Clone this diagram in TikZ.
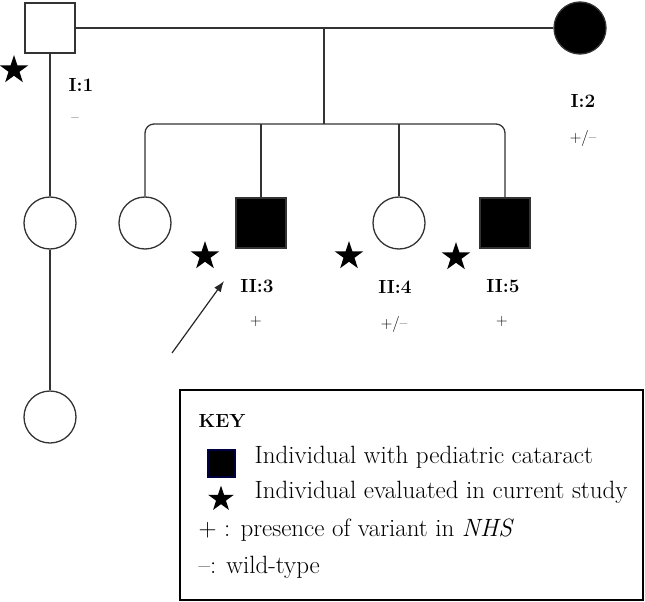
\documentclass[tikz,border=0pt]{standalone}
\usepackage{tikz}
\usetikzlibrary{arrows.meta,shapes.geometric}

\begin{document}
\begin{tikzpicture}[x=1pt, y=-1pt, line width=1.3pt, >={Latex[length=11pt,width=8pt]},
	male/.style={draw=black!80, rectangle, minimum size=50pt, inner sep=0pt},
	female/.style={draw=black!80, circle, minimum size=52pt, inner sep=0pt},
	affected/.style={fill=black},
	evaluated/.style={star, star points=5, star point ratio=2.6, fill=black, minimum size=30pt, inner sep=0pt},
	idlabel/.style={font=\fontsize{19}{22}\selectfont\bfseries},
	gtlabel/.style={font=\fontsize{16}{18}\selectfont},
	keytext/.style={anchor=base west, inner sep=0pt, font=\fontsize{25}{28}\selectfont}]
	\useasboundingbox (0,0) rectangle (645,602);
	% generation I
	\node[male] (I1) at (50,28) {};
	\node[female, affected] (I2) at (580,28) {};
	% generation II
	\node[female] (II1) at (50,223) {};
	\node[female] (II2) at (145,223) {};
	\node[male, affected] (II3) at (261,223) {};
	\node[female] (II4) at (399,223) {};
	\node[male, affected] (II5) at (505,223) {};
	% generation III
	\node[female] (III1) at (50,417) {};
	% mating and sibship lines
	\coordinate (mate) at (324,28);
	\coordinate (sib) at (324,124);
	\draw[black!80] (I1) -- (I2);
	\draw[black!80] (mate) -- (sib);
	\draw[black!80, rounded corners=9pt] (II2.north) -- (II2.north |- sib) -- (II5.north |- sib) -- (II5.north);
	\draw[black!80] (II3.north) -- (II3.north |- sib);
	\draw[black!80] (II4.north) -- (II4.north |- sib);
	\draw[black!80] (I1) -- (II1);
	\draw[black!80] (II1) -- (III1);
	% evaluated individuals
	\node[evaluated] (evI1) at (14,70) {};
	\node[evaluated] (evII3) at (205,256) {};
	\node[evaluated] (evII4) at (349,256) {};
	\node[evaluated] (evII5) at (456,257) {};
	% labels
	\node[idlabel] (idI1) at (81,85) {I:1};
	\node[gtlabel] (gtI1) at (75,120) {--};
	\node[idlabel] (idI2) at (583,101) {I:2};
	\node[gtlabel] (gtI2) at (583,138) {+/--};
	\node[idlabel] (idII3) at (257,286) {II:3};
	\node[gtlabel] (gtII3) at (256,322) {+};
	\node[idlabel] (idII4) at (395,287) {II:4};
	\node[gtlabel] (gtII4) at (394,324) {+/--};
	\node[idlabel] (idII5) at (503,286) {II:5};
	\node[gtlabel] (gtII5) at (502,322) {+};
	% proband arrow
	\coordinate (probandtail) at (172,353);
	\coordinate (probandtip) at (224,281);
	\draw[->, black!85, line width=1.2pt] (probandtail) -- (probandtip);
	% key
	\draw[line width=1.2pt] (180,390) rectangle (643,600);
	\node[anchor=base west, inner sep=0pt, font=\fontsize{19}{22}\selectfont\bfseries] (keytitle) at (198,427) {KEY};
	\node[male, affected, draw=blue!25!black, minimum size=27pt] (keysq) at (221.5,463.5) {};
	\node[keytext] (keyaff) at (254,463) {Individual with pediatric cataract};
	\node[evaluated, minimum size=27pt] (keystar) at (221,499) {};
	\node[keytext] (keyev) at (254,498) {Individual evaluated in current study};
	\node[keytext] (keyplus) at (198,536) {+ : presence of variant in \textit{NHS}};
	\node[keytext] (keyminus) at (198,573) {--: wild-type};
\end{tikzpicture}
\end{document}
